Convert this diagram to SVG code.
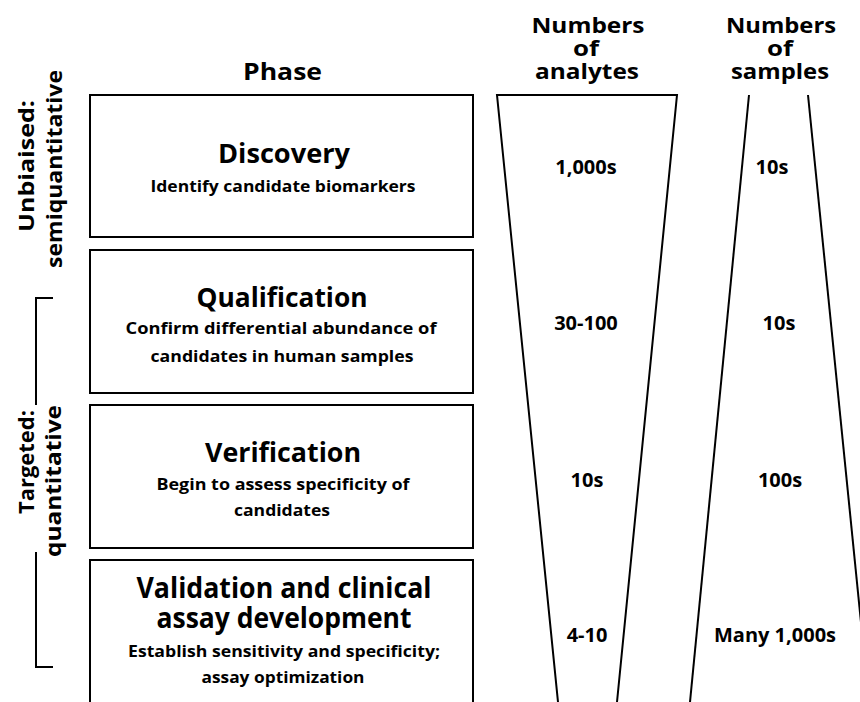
<svg xmlns="http://www.w3.org/2000/svg" width="860" height="702" viewBox="0 0 860 702">
<style>
text{font-family:"Open Sans","Noto Sans","Liberation Sans",sans-serif;font-weight:bold;fill:#000;text-anchor:middle}
.hd{font-size:22px}
.ph{font-size:24px}
.tt{font-size:26px}
.tv{font-size:28px}
.st{font-size:16px}
.nm{font-size:20px}
.sd{font-size:22px}
.box{fill:#fff;stroke:#000;stroke-width:2}
.ln{fill:none;stroke:#000;stroke-width:2}
</style>
<rect width="860" height="702" fill="#fff"/>
<g id="headers">
<text class="ph" x="282.5" y="80" textLength="79" lengthAdjust="spacingAndGlyphs">Phase</text>
<text class="hd" x="588" y="33" textLength="113" lengthAdjust="spacingAndGlyphs">Numbers</text>
<text class="hd" x="586" y="56" textLength="26" lengthAdjust="spacingAndGlyphs">of</text>
<text class="hd" x="587" y="79" textLength="104" lengthAdjust="spacingAndGlyphs">analytes</text>
<text class="hd" x="781" y="33" textLength="110" lengthAdjust="spacingAndGlyphs">Numbers</text>
<text class="hd" x="780" y="56" textLength="26" lengthAdjust="spacingAndGlyphs">of</text>
<text class="hd" x="780" y="79" textLength="98" lengthAdjust="spacingAndGlyphs">samples</text>
</g>
<g id="side-labels">
<text class="sd" transform="translate(34,166) rotate(-90)" textLength="132" lengthAdjust="spacingAndGlyphs">Unbiaised:</text>
<text class="sd" transform="translate(62,169) rotate(-90)" textLength="198" lengthAdjust="spacingAndGlyphs">semiquantitative</text>
<text class="sd" transform="translate(34,462) rotate(-90)" textLength="104" lengthAdjust="spacingAndGlyphs">Targeted:</text>
<text class="sd" transform="translate(61,481) rotate(-90)" textLength="152" lengthAdjust="spacingAndGlyphs">quantitative</text>
<path class="ln" d="M53,298 H36 V405 M36,552 V667 H53"/>
</g>
<g id="discovery">
<rect class="box" x="90" y="95" width="383" height="142"/>
<text class="tt" x="284" y="163" textLength="132" lengthAdjust="spacingAndGlyphs">Discovery</text>
<text class="st" x="283" y="192" textLength="265" lengthAdjust="spacingAndGlyphs">Identify candidate biomarkers</text>
</g>
<g id="qualification">
<rect class="box" x="90" y="250" width="383" height="143"/>
<text class="tt" x="282" y="307" textLength="171" lengthAdjust="spacingAndGlyphs">Qualification</text>
<text class="st" x="281" y="334" textLength="311" lengthAdjust="spacingAndGlyphs">Confirm differential abundance of</text>
<text class="st" x="282" y="362" textLength="263" lengthAdjust="spacingAndGlyphs">candidates in human samples</text>
</g>
<g id="verification">
<rect class="box" x="90" y="405" width="383" height="143"/>
<text class="tt" x="283" y="462" textLength="156" lengthAdjust="spacingAndGlyphs">Verification</text>
<text class="st" x="283" y="490" textLength="253" lengthAdjust="spacingAndGlyphs">Begin to assess specificity of</text>
<text class="st" x="282" y="516" textLength="96" lengthAdjust="spacingAndGlyphs">candidates</text>
</g>
<g id="validation">
<rect class="box" x="90" y="560" width="383" height="150"/>
<text class="tv" x="284" y="598" textLength="295" lengthAdjust="spacingAndGlyphs">Validation and clinical</text>
<text class="tv" x="284" y="628" textLength="255" lengthAdjust="spacingAndGlyphs">assay development</text>
<text class="st" x="284" y="657" textLength="312" lengthAdjust="spacingAndGlyphs">Establish sensitivity and specificity;</text>
<text class="st" x="283" y="683" textLength="163" lengthAdjust="spacingAndGlyphs">assay optimization</text>
</g>
<g id="connectors">
<path class="ln" d="M558,702 L497,95 H677 L617,702"/>
<path class="ln" d="M749,95 L690,702"/>
<path class="ln" d="M808,95 L869,702"/>
</g>
<g id="analytes">
<text class="nm" x="586" y="174">1,000s</text>
<text class="nm" x="586" y="330">30-100</text>
<text class="nm" x="587" y="487">10s</text>
<text class="nm" x="587" y="642">4-10</text>
</g>
<g id="samples">
<text class="nm" x="772" y="174">10s</text>
<text class="nm" x="779" y="330">10s</text>
<text class="nm" x="780" y="487">100s</text>
<text class="nm" x="775" y="642">Many 1,000s</text>
</g>
</svg>
